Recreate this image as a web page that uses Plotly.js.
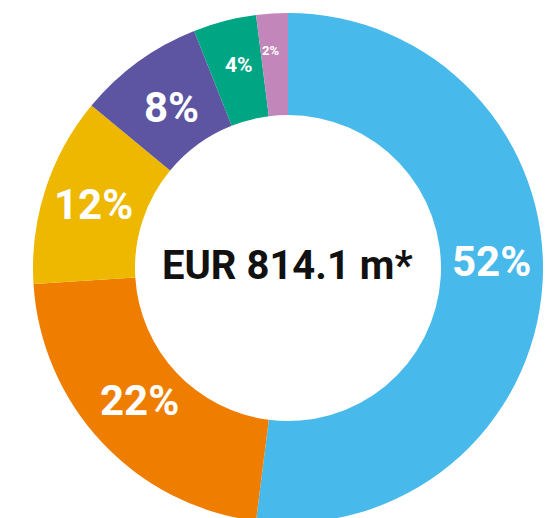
<!DOCTYPE html>
<html>
<head>
<meta charset="utf-8">
<script src="https://cdn.plot.ly/plotly-3.0.1.min.js"></script>
<style>
html,body{margin:0;padding:0;overflow:hidden;background:#fff;}
#chart{width:557px;height:530px;}
</style>
</head>
<body>
<div id="chart"></div>
<script>
// ---- data ----
const categories = ["A", "B", "C", "D", "E", "F"];
const shares = [52, 22, 12, 8, 4, 2];
const labelsText = ["52%", "22%", "12%", "8%", "4%", "2%"];
const centerText = "EUR 814.1 m*";

// ---- styles ----
const colors = ["#47B9EA", "#EF7D00", "#EEB700", "#5D55A2", "#00A584", "#C386BA"];
const labelSizes = [42, 42, 42, 42, 21, 13];
const labelRadiusFrac = [0.80, 0.78, 0.80, 0.78, 0.82, 0.855];
const labelAngleShift = [-5.5, 1.5, 0, 0, 0.8, -0.9];

const W = 557, H = 530;
const cx = 288, cy = 268, R = 255;
const holeFrac = 0.6;

const trace = {
  type: "pie",
  labels: categories,
  values: shares,
  textinfo: "none",
  sort: false,
  direction: "clockwise",
  rotation: 0,
  hole: holeFrac,
  marker: { colors: colors, line: { width: 0 } },
  domain: {
    x: [(cx - R) / W, (cx + R) / W],
    y: [(H - (cy + R)) / H, (H - (cy - R)) / H]
  },
  showlegend: false,
  hoverinfo: "none"
};

// label positions derived from the slice angles
const total = shares.reduce((a, b) => a + b, 0);
let cum = 0;
const annotations = shares.map((v, i) => {
  const mid = (cum + v / 2) / total * 360 + labelAngleShift[i];
  cum += v;
  const th = mid * Math.PI / 180;
  const r = R * labelRadiusFrac[i];
  const px = cx + r * Math.sin(th);
  const py = cy - r * Math.cos(th);
  return {
    text: "<b>" + labelsText[i] + "</b>",
    xref: "paper", yref: "paper",
    x: px / W, y: (H - py) / H,
    xanchor: "center", yanchor: "middle",
    showarrow: false,
    font: { family: "Roboto, sans-serif", size: labelSizes[i], color: "#ffffff" }
  };
});

annotations.push({
  text: "<b>" + centerText + "</b>",
  xref: "paper", yref: "paper",
  x: (cx - 1) / W, y: (H - cy + 3) / H,
  xanchor: "center", yanchor: "middle",
  showarrow: false,
  font: { family: "Roboto, sans-serif", size: 40, color: "#111111" }
});

const layout = {
  width: W,
  height: H,
  margin: { l: 0, r: 0, t: 0, b: 0 },
  paper_bgcolor: "#ffffff",
  showlegend: false,
  annotations: annotations
};

Plotly.newPlot("chart", [trace], layout, { staticPlot: true, displayModeBar: false });
</script>
</body>
</html>
